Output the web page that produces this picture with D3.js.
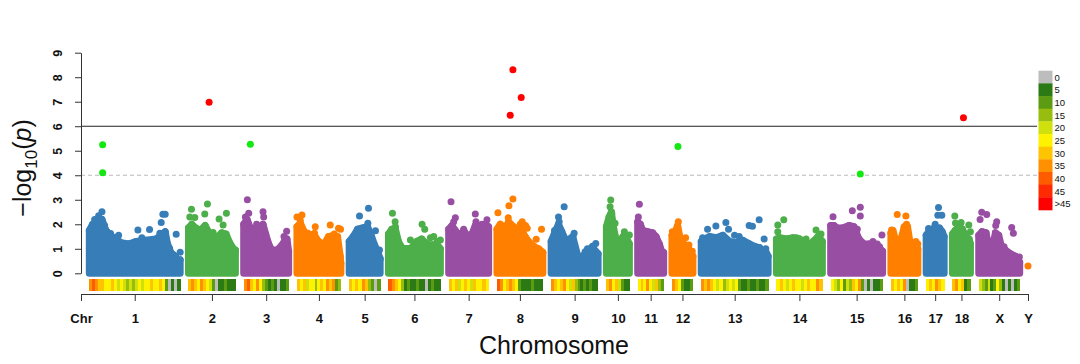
<!DOCTYPE html>
<html>
<head>
<meta charset="utf-8">
<script src="https://cdn.jsdelivr.net/npm/d3@7"></script>
<style>
  body { margin: 0; background: #fff; }
  text { font-family: "Liberation Sans", Arial, sans-serif; }
</style>
</head>
<body>
<div id="chart"></div>
<script>

// chromosomes and their lengths (Mb)
let chrNames = ["1","2","3","4","5","6","7","8","9","10","11","12","13","14","15","16","17","18","X","Y"];
let chrLengths = [273,141,135,132,93,156,120,138,141,69,78,63,201,138,156,81,54,54,123,0];

// upper edge of the dense SNP cloud per chromosome: [pos Mb, -log10(p)]
let massTop = [
  [[0,1.75],[10,2.0],[25,2.15],[38,2.2],[48,1.8],[58,1.55],[75,1.45],[95,1.25],[120,1.2],[140,1.3],[170,1.35],[200,1.4],[215,1.55],[228,1.7],[235,1.2],[245,0.85],[258,0.7],[266,0.5],[273,0.55]],
  [[0,1.85],[10,2.0],[22,1.85],[35,1.75],[50,1.95],[60,1.7],[75,1.45],[88,1.5],[100,1.65],[113,1.6],[122,1.3],[135,1.0],[141,0.95]],
  [[0,2.0],[10,2.2],[20,1.85],[35,1.8],[48,1.6],[58,2.0],[66,1.6],[75,1.2],[84,0.95],[100,0.95],[112,1.1],[122,1.3],[130,1.4],[135,0.9]],
  [[0,1.9],[10,2.05],[22,1.7],[35,1.55],[50,1.6],[65,1.3],[80,1.15],[95,1.5],[110,1.55],[122,1.5],[130,0.7],[132,0.4]],
  [[0,1.3],[12,1.5],[25,1.8],[40,1.85],[55,1.9],[65,1.6],[75,1.2],[85,0.9],[93,0.6]],
  [[0,1.6],[10,1.8],[20,1.85],[30,1.3],[40,1.05],[55,1.0],[70,1.05],[85,1.3],[100,1.4],[115,1.2],[130,1.15],[145,1.2],[156,1.0]],
  [[0,1.8],[10,1.95],[20,1.75],[30,1.5],[45,1.75],[55,1.55],[70,1.6],[80,1.95],[95,1.95],[110,2.0],[120,1.9]],
  [[0,1.8],[10,2.0],[25,1.85],[35,2.1],[50,1.9],[65,1.75],[80,1.6],[95,1.3],[110,1.1],[125,1.0],[138,0.85]],
  [[0,1.3],[12,1.7],[22,2.0],[32,1.7],[45,1.3],[65,1.5],[80,0.7],[95,0.7],[110,0.95],[125,1.05],[141,0.8]],
  [[0,1.9],[8,2.3],[15,2.5],[22,1.8],[30,1.35],[40,1.3],[50,1.5],[60,1.45],[69,1.2]],
  [[0,2.1],[8,2.0],[15,1.75],[30,1.7],[45,1.65],[55,1.5],[65,1.2],[72,0.9],[78,0.85]],
  [[0,1.55],[8,1.65],[17,1.95],[25,1.4],[35,1.2],[45,1.1],[55,0.9],[63,0.7]],
  [[0,1.3],[10,1.4],[25,1.5],[45,1.45],[65,1.55],[85,1.3],[105,1.25],[125,1.35],[145,1.2],[160,1.1],[175,1.05],[185,0.9],[195,0.85],[201,0.7]],
  [[0,1.4],[10,1.45],[30,1.4],[50,1.45],[70,1.4],[85,1.25],[100,1.15],[110,1.3],[125,1.5],[138,1.3]],
  [[0,1.95],[10,1.95],[20,1.85],[35,1.85],[55,1.95],[70,1.9],[85,1.4],[100,1.2],[115,1.2],[130,1.0],[145,1.05],[156,0.9]],
  [[0,1.65],[6,1.75],[15,1.3],[28,1.25],[40,1.9],[50,1.9],[58,1.2],[70,1.1],[81,1.0]],
  [[0,1.55],[10,1.75],[25,1.85],[40,1.85],[48,1.7],[54,1.5]],
  [[0,1.6],[8,1.75],[20,1.9],[30,1.8],[40,1.5],[50,1.4],[54,1.2]],
  [[0,1.55],[10,1.7],[22,1.65],[30,1.1],[40,1.0],[50,1.65],[60,1.55],[70,1.0],[80,0.95],[95,0.8],[110,0.7],[118,0.55],[123,0.45]],
  []
];

// single SNPs standing out above the cloud: [pos Mb, -log10(p)]
let scatterTop = [
  [[38,2.51],[28,2.35],[16,2.2],[46,1.95],[54,1.7],[64,1.62],[88,1.55],[146,1.77],[158,1.45],[181,1.79],[212,1.63],[216,2.07],[221,2.41],[228,2.41],[241,1.02],[261,1.59],[273,0.86]],
  [[4,2.3],[9,2.61],[19,2.28],[49,2.42],[57,2.83],[74,1.66],[92,2.22],[104,1.97],[114,2.45],[141,0.88]],
  [[5,2.3],[11,3.0],[15,2.45],[39,2.0],[58,2.51],[60,2.3],[121,1.5],[126,1.29],[129,1.72]],
  [[0,2.3],[10,2.15],[15,2.38],[33,1.63],[53,1.63],[55,1.9],[75,1.22],[90,1.15],[100,1.97],[112,1.6],[125,1.84],[131,1.8],[131,0.27]],
  [[31,2.34],[34,1.8],[56,2.04],[58,2.65],[79,1.74],[91,0.95],[92,0.54]],
  [[12,2.45],[20,2.1],[21,1.9],[66,1.36],[101,2.0],[109,1.8],[126,1.45],[136,1.5],[146,1.3],[156,1.36]],
  [[7,2.92],[15,2.1],[20,2.27],[45,1.8],[80,2.42],[82,2.1],[100,2.0],[115,2.18]],
  [[3,2.47],[34,2.27],[36,2.76],[48,3.03],[70,2.0],[76,2.1],[80,1.85],[86,1.95],[91,1.84],[111,1.1],[118,1.39],[126,0.95],[134,1.8]],
  [[10,1.75],[22,2.3],[24,2.1],[39,2.72],[69,1.63],[102,0.88],[109,1.0],[124,1.1],[134,1.22]],
  [[11,2.72],[13,2.99],[16,2.45],[26,2.04],[54,1.7],[69,1.56]],
  [[2,2.3],[5,2.82]],
  [[1,1.7],[19,2.1],[41,1.45],[51,1.15],[61,0.9]],
  [[4,1.45],[19,1.8],[44,1.93],[74,2.07],[82,1.8],[100,1.55],[114,1.5],[144,1.95],[154,1.92],[174,2.18],[189,1.4],[194,1.0]],
  [[4,1.97],[4,1.7],[22,2.18],[60,1.45],[89,1.4],[119,1.77],[134,1.6]],
  [[7,2.31],[65,2.55],[80,1.8],[89,2.69],[89,2.34],[127,1.3],[140,1.2],[147,1.08],[154,1.56]],
  [[2,1.77],[19,2.4],[45,2.34],[47,2.0],[75,1.3],[81,1.2]],
  [[7,1.83],[27,2.0],[35,2.37],[37,2.68],[47,2.37]],
  [[7,2.34],[9,2.05],[26,2.07],[49,1.97],[54,1.7]],
  [[4,2.2],[9,2.49],[24,2.4],[51,1.95],[54,2.1],[76,1.08],[99,1.87],[104,1.63],[122,0.67]],
  [[0,0.3]]
];

// SNPs above the suggestive threshold
let hitChr = ["1","1","2","3","8","8","8","12","15","18"];
let hitPos = [40,40,62,20,48,73,40,18,89,33];
let hitLogP = [5.24,4.10,6.98,5.26,8.30,7.17,6.45,5.17,4.05,6.35];

// SNP density per window along each chromosome
let densityBins = [
  [35,40,35,30,30,25,25,30,25,20,25,20,15,20,15,20,25,20,25,25,30,25,25,30,25,10,0,5,0,5],
  [30,35,30,25,35,30,25,20,10,0,5,5,10,5,5,5],
  [35,40,30,25,35,25,15,10,5,10,5,0,5,5,10],
  [30,25,30,20,25,25,15,25,30,25,35,30,35,10,15],
  [30,25,30,25,35,30,15,10,0,10],
  [40,35,30,25,15,5,10,5,5,10,5,5,0,5,10,5,5],
  [30,25,30,20,25,30,25,20,30,25,25,30,25],
  [40,35,25,30,35,30,25,10,5,5,5,10,5,5,5],
  [35,30,25,30,35,25,20,30,15,10,5,10,5,10,5,5],
  [30,35,25,30,20,10,5,5],
  [25,30,25,35,25,20,30,15,10],
  [35,30,25,10,5,5,10],
  [35,30,35,30,25,20,25,15,20,25,20,25,10,5,5,10,5,5,10,5,5,10],
  [25,30,25,20,25,30,25,25,20,25,30,25,25,35,30],
  [25,20,15,25,10,20,15,30,25,35,10,0,5,0,5,5,10],
  [30,25,30,25,35,0,5,5,10],
  [25,30,25,35,30,25],
  [30,35,25,30,5,10],
  [20,15,10,20,5,10,25,15,5,0,5,0,5,10],
  []
];

let yTicks = [0,1,2,3,4,5,6,7,8,9];
let thresholds = [6, 4];
let legendLabels = ["0","5","10","15","20","25","30","35","40","45",">45"];
let legendColors = ["#bdbdbd","#2b7a14","#5c9c12","#97bd0f","#cfe00c","#fff200","#ffc400","#ff9000","#ff5c00","#ff2a00","#ff0000"];
let chrColors = ["#377eb8","#4daf4a","#984ea3","#ff7f00"];


let dim = {
    'width': 1080,
    'height': 364
};

let svg = d3.select("#chart").append("svg")
     .attr("width", dim.width)
     .attr("height", dim.height);

svg.append("rect").attr("width", dim.width).attr("height", dim.height).attr("fill", "#fff");

// cumulative layout of chromosomes along x
let gap = 25;
let starts = [];
let acc = gap;
chrLengths.forEach(len => {
    starts.push(acc);
    acc += len + gap;
});

let scaleX = d3.scaleLinear()
     .domain([0, starts[starts.length - 1]])
     .range([81, 1028]);

let scaleY = d3.scaleLinear()
     .domain([0, 9])
     .range([273.3, 52.7]);

let r = 3.5;

// threshold lines
svg.append("line")
     .attr("x1", 81).attr("x2", 1037)
     .attr("y1", scaleY(thresholds[0])).attr("y2", scaleY(thresholds[0]))
     .attr("stroke", "#222").attr("stroke-width", 1.2);
svg.append("line")
     .attr("x1", 81).attr("x2", 1037)
     .attr("y1", scaleY(thresholds[1])).attr("y2", scaleY(thresholds[1]))
     .attr("stroke", "#bbb").attr("stroke-width", 1).attr("stroke-dasharray", "4,3");

// SNP clouds
let area = d3.area()
     .curve(d3.curveLinear);

let g = svg.append("g");

chrNames.forEach((name, i) => {
    let col = chrColors[i % 4];
    let x = d => scaleX(starts[i] + d[0]);
    if (massTop[i].length) {
        g.append("path")
             .datum(massTop[i])
             .attr("d", area.x(x).y0(scaleY(0)).y1(d => scaleY(d[1])))
             .attr("fill", col)
             .attr("stroke", col)
             .attr("stroke-width", r * 2)
             .attr("stroke-linejoin", "round");
    }
    g.selectAll(null)
         .data(massTop[i].concat(scatterTop[i]))
         .join("circle")
         .attr("cx", x)
         .attr("cy", d => scaleY(d[1]))
         .attr("r", r)
         .attr("fill", col);
});

// highlighted SNPs
let hits = hitChr.map((c, k) => ({chr: c, pos: hitPos[k], p: hitLogP[k]}));
svg.append("g").selectAll("circle")
     .data(hits)
     .join("circle")
     .attr("cx", d => scaleX(starts[chrNames.indexOf(d.chr)] + d.pos))
     .attr("cy", d => scaleY(d.p))
     .attr("r", r)
     .attr("fill", d => d.p >= thresholds[0] ? "#ff0000" : "#13e813");

// density strips under each chromosome
function densityColor(v) {
    if (v <= 0) return legendColors[0];
    return legendColors[Math.min(10, Math.ceil(v / 5))];
}

let strip = svg.append("g").attr("shape-rendering", "crispEdges");
chrNames.forEach((name, i) => {
    let bins = densityBins[i];
    let n = bins.length;
    if (!n) return;
    let w = chrLengths[i] / n;
    strip.selectAll(null)
         .data(bins)
         .join("rect")
         .attr("x", (d, k) => scaleX(starts[i] + k * w))
         .attr("width", (d, k) => scaleX(starts[i] + (k + 1) * w) - scaleX(starts[i] + k * w) + 0.4)
         .attr("y", 279)
         .attr("height", 12)
         .attr("fill", d => densityColor(d));
});

// y axis
let axisY = d3.axisLeft(scaleY)
     .tickValues(yTicks)
     .tickSize(6)
     .tickSizeOuter(0);

let gy = svg.append("g")
     .attr("transform", "translate(81, 0)")
     .call(axisY);
gy.select(".domain").attr("stroke", "#333");
gy.selectAll(".tick line").attr("stroke", "#333");
gy.selectAll(".tick text")
     .attr("x", null).attr("dy", null)
     .attr("text-anchor", "middle")
     .attr("transform", "translate(-19, 0) rotate(-90)")
     .attr("font-size", 12.5)
     .attr("font-weight", "bold")
     .attr("font-family", "Liberation Sans, Arial, sans-serif")
     .attr("fill", "#111");

// x axis with chromosome labels
let tickPos = [0].concat(chrNames.map((c, i) => starts[i] + chrLengths[i] / 2));
let tickLab = ["Chr"].concat(chrNames);

let axisX = d3.axisBottom(scaleX)
     .tickValues(tickPos)
     .tickFormat((d, k) => tickLab[k])
     .tickSize(7)
     .tickPadding(13)
     .tickSizeOuter(0);

let gx = svg.append("g")
     .attr("transform", "translate(0, 294)")
     .call(axisX);
gx.select(".domain").attr("stroke", "#333");
gx.selectAll(".tick line").attr("stroke", "#333");
gx.selectAll(".tick text")
     .attr("font-size", 13)
     .attr("font-weight", "bold")
     .attr("font-family", "Liberation Sans, Arial, sans-serif")
     .attr("fill", "#111");

// axis titles
svg.append("text")
     .attr("x", 554)
     .attr("y", 354)
     .attr("text-anchor", "middle")
     .attr("font-size", 25)
     .attr("fill", "#111")
     .text("Chromosome");

let yt = svg.append("text")
     .attr("transform", "translate(31, 168) rotate(-90)")
     .attr("text-anchor", "middle")
     .attr("font-size", 25)
     .attr("fill", "#111");
yt.append("tspan").text("\u2212log");
yt.append("tspan").attr("font-size", 17).attr("dy", 6).text("10");
yt.append("tspan").attr("dy", -6).text("(");
yt.append("tspan").attr("font-style", "italic").text("p");
yt.append("tspan").text(")");

// legend
let legY = d3.scaleBand()
     .domain(legendLabels)
     .range([70.7, 210]);

let leg = svg.append("g");
leg.selectAll("rect")
     .data(legendLabels)
     .join("rect")
     .attr("x", 1038.5)
     .attr("y", d => legY(d))
     .attr("width", 14)
     .attr("height", legY.bandwidth() + 0.3)
     .attr("fill", (d, k) => legendColors[k]);
leg.selectAll("text")
     .data(legendLabels)
     .join("text")
     .attr("x", 1054.5)
     .attr("y", d => legY(d) + legY.bandwidth() / 2 + 3.5)
     .attr("font-size", 9.5)
     .attr("fill", "#111")
     .text(d => d);

</script>
</body>
</html>
